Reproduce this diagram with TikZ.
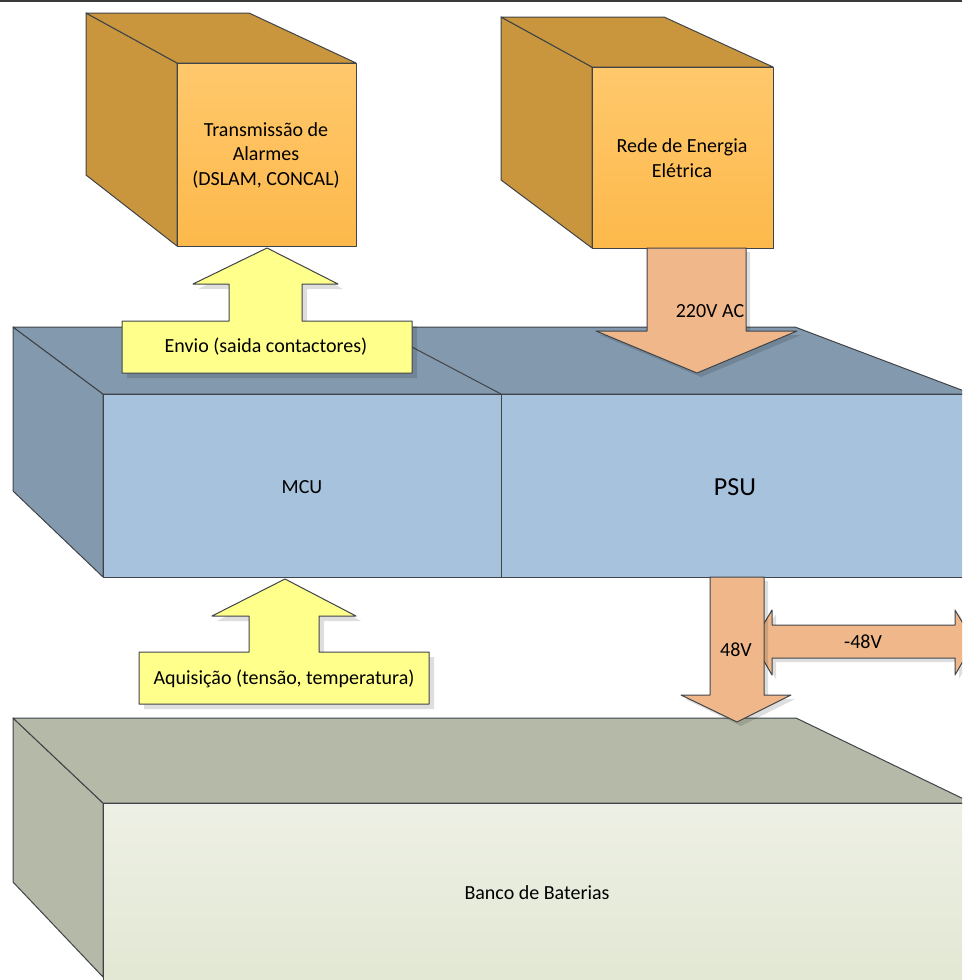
\documentclass[tikz,border=0pt]{standalone}
\usepackage{fontspec}
\setmainfont{Carlito}
\definecolor{oside}{HTML}{C9963E}
\definecolor{ofronttop}{HTML}{FFC86C}
\definecolor{ofrontbot}{HTML}{FDB94B}
\definecolor{bside}{HTML}{8399AE}
\definecolor{bfront}{HTML}{A6C2DC}
\definecolor{gside}{HTML}{B5B9A8}
\definecolor{gfronttop}{HTML}{EDF0E4}
\definecolor{gfrontbot}{HTML}{E2E7D3}
\definecolor{yarrow}{HTML}{FFFF8C}
\definecolor{oarrow}{HTML}{F0B88A}
\definecolor{edgec}{HTML}{404448}
\definecolor{topbar}{HTML}{3A3A3A}
\tikzset{
  facebox/.style={draw=edgec, line width=1, line join=round},
  lbl/.style={font=\fontsize{20}{24.5}\selectfont, align=center, inner sep=0, text=black},
  shadowpoly/.style={fill=black, opacity=0.13},
}
\begin{document}
\begin{tikzpicture}[x=1pt,y=-1pt]
\useasboundingbox (0,0) rectangle (962,980);
\clip (0,0) rectangle (962,980);
\fill[white] (0,0) rectangle (962,980);
% top bar
\draw[topbar, line width=2.5] (0,1) -- (962,1);

% ---- Box 1: Transmissao de Alarmes
\filldraw[facebox, fill=oside] (86,13) -- (177,63) -- (177,246) -- (86,175) -- cycle;
\filldraw[facebox, fill=oside] (86,13) -- (249,13) -- (356,63) -- (177,63) -- cycle;
\draw[facebox, top color=ofronttop, bottom color=ofrontbot] (177,63) rectangle (356,246);
\node[lbl] (trans) at (266,155) {Transmissão de\\Alarmes\\(DSLAM, CONCAL)};

% ---- Box 2: Rede de Energia
\filldraw[facebox, fill=oside] (501,17) -- (592,67) -- (592,248) -- (501,180) -- cycle;
\filldraw[facebox, fill=oside] (501,17) -- (664,17) -- (773,67) -- (592,67) -- cycle;
\draw[facebox, top color=ofronttop, bottom color=ofrontbot] (592,67) rectangle (773,248);
\node[lbl] (rede) at (682,158) {Rede de Energia\\Elétrica};

% ---- MCU / PSU block
\filldraw[facebox, fill=bside] (13,327) -- (103,394) -- (103,577) -- (13,491) -- cycle;
\filldraw[facebox, fill=bside] (13,327) -- (795,327) -- (972,394) -- (103,394) -- cycle;
\draw[facebox] (374,327) -- (501,394);
\filldraw[facebox, fill=bfront] (103,394) rectangle (972,577);
\draw[facebox] (501,394) -- (501,577);
\node[lbl] (mcu) at (302,487) {MCU};
\node[lbl, font=\fontsize{26}{30}\selectfont] (psu) at (735,487) {PSU};

% ---- Battery bank
\filldraw[facebox, fill=gside] (13,718) -- (103,803) -- (103,977) -- (13,882) -- cycle;
\filldraw[facebox, fill=gside] (13,718) -- (796,718) -- (972,803) -- (103,803) -- cycle;
\draw[facebox, top color=gfronttop, bottom color=gfrontbot] (103,803) rectangle (972,990);
\node[lbl] (bat) at (537,893) {Banco de Baterias};

% ---- Envio arrow (yellow, up)
\fill[shadowpoly] (272,253) -- (343,289) -- (307,289) -- (307,326) -- (417,326) -- (417,378)
  -- (127,378) -- (127,326) -- (234,326) -- (234,289) -- (198,289) -- cycle;
\filldraw[facebox, fill=yarrow] (267,248) -- (338,284) -- (302,284) -- (302,321) -- (412,321) -- (412,373)
  -- (122,373) -- (122,321) -- (229,321) -- (229,284) -- (193,284) -- cycle;
\node[lbl] (envio) at (266,347) {Envio (saida contactores)};

% ---- Aquisicao arrow (yellow, up)
\fill[shadowpoly] (290,584) -- (361,621) -- (324,621) -- (324,657) -- (434,657) -- (434,709)
  -- (144,709) -- (144,657) -- (254,657) -- (254,621) -- (217,621) -- cycle;
\filldraw[facebox, fill=yarrow] (285,579) -- (356,616) -- (319,616) -- (319,652) -- (429,652) -- (429,704)
  -- (139,704) -- (139,652) -- (249,652) -- (249,616) -- (212,616) -- cycle;
\node[lbl] (aquis) at (284,679) {Aquisição (tensão, temperatura)};

% ---- 220V AC arrow (down)
\fill[shadowpoly] (651,252) -- (750,252) -- (750,335) -- (801,335) -- (701,377) -- (600,335) -- (651,335) -- cycle;
\filldraw[facebox, fill=oarrow] (647,248) -- (746,248) -- (746,331) -- (797,331) -- (697,373) -- (596,331) -- (647,331) -- cycle;
\node[lbl] (ac) at (710,311) {220V AC};

% ---- -48V double arrow
\fill[shadowpoly] (757,646) -- (776,614) -- (776,629) -- (959,629) -- (959,614) -- (978,646) -- (959,679) -- (959,662) -- (776,662) -- (776,679) -- cycle;
\filldraw[facebox, fill=oarrow] (753,642) -- (772,610) -- (772,625) -- (955,625) -- (955,610) -- (974,642)
  -- (955,675) -- (955,658) -- (772,658) -- (772,675) -- cycle;
\node[lbl] (neg) at (863,642) {-48V};

% ---- 48V arrow (down)
\fill[shadowpoly] (714,581) -- (768,581) -- (768,699) -- (795,699) -- (741,726) -- (685,699) -- (714,699) -- cycle;
\filldraw[facebox, fill=oarrow] (710,577) -- (764,577) -- (764,695) -- (791,695) -- (737,722) -- (681,695) -- (710,695) -- cycle;
\node[lbl] (dc) at (736,650) {48V};
\end{tikzpicture}
\end{document}
